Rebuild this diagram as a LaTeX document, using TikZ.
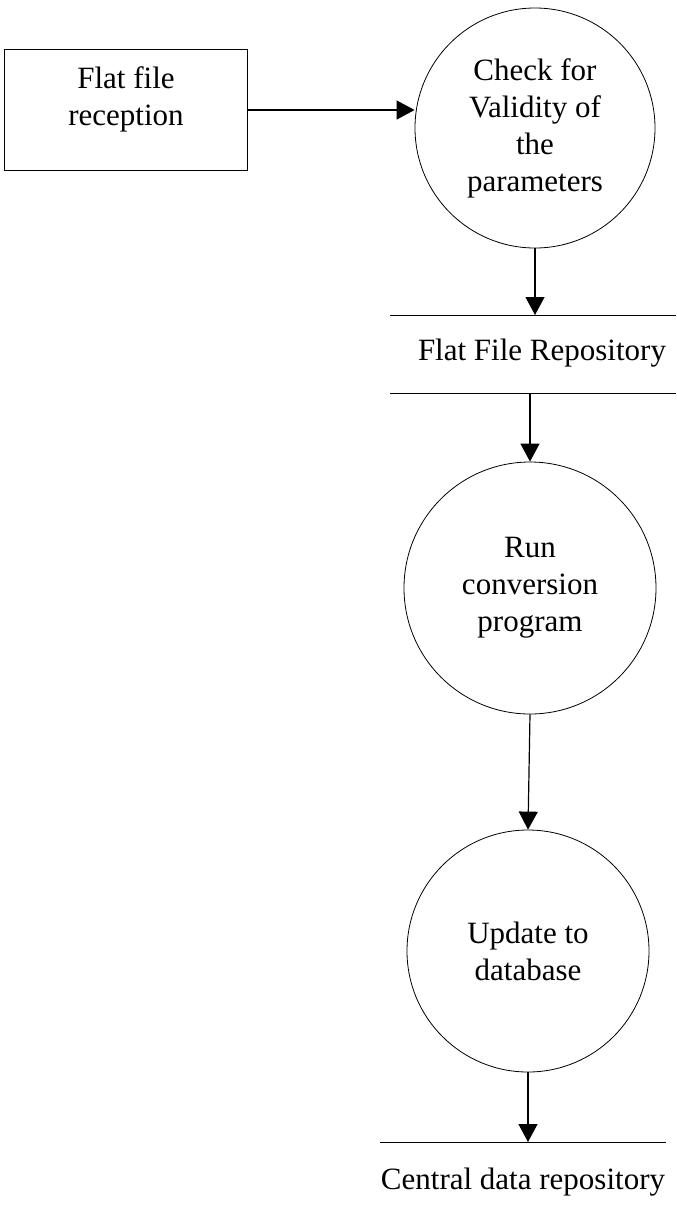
\documentclass[tikz,border=0pt]{standalone}
\usepackage{fontspec}
\setmainfont{Liberation Serif}
\usetikzlibrary{arrows.meta,calc}

\begin{document}
\begin{tikzpicture}[x=0.5pt, y=-0.5pt, font=\fontsize{15.5}{18.5}\selectfont,
    flow/.style={draw, line width=0.6pt, -{Triangle[length=9pt, width=9.5pt]}},
    process/.style={draw, circle, line width=0.4pt, align=center, inner sep=0pt},
    entity/.style={draw, rectangle, line width=0.5pt, minimum width=121.5pt, minimum height=60.5pt},
    store/.style={line width=0.5pt}]
    \useasboundingbox (0,0) rectangle (676,1222);

    \node[entity] (recv) at (126,110) {};
    \node[align=center, yshift=5.5pt] (recvtext) at (recv) {Flat file\\reception};
    \node[process, minimum size=120pt] (check) at (535,128) {Check for\\Validity of\\the\\parameters};

    % Data store
    \coordinate (s1a) at (390,315);
    \coordinate (s1b) at (676,315);
    \coordinate (s2a) at (390,393);
    \coordinate (s2b) at (676,393);
    \draw[store] (s1a) -- (s1b);
    \draw[store] (s2a) -- (s2b);
    \node (repo) at (542,353) {Flat File Repository};

    \node[process, minimum size=126pt] (conv) at (530,588) {Run\\conversion\\program};
    \node[process, minimum size=121pt] (upd) at (528,951) {Update to\\database};

    % Central store
    \coordinate (s3a) at (380,1142);
    \coordinate (s3b) at (666,1142);
    \draw[store] (s3a) -- (s3b);
    \node (central) at (523,1182) {Central data repository};

    \draw[flow] (recv.east) -- (recv.east -| check.west);
    \draw[flow] (check.south) -- (check.south |- s1a);
    \draw[flow] (conv.north |- s2a) -- (conv.north);
    \draw[flow] (conv.south) -- (upd.north);
    \draw[flow] (upd.south) -- (upd.south |- s3a);
\end{tikzpicture}
\end{document}
